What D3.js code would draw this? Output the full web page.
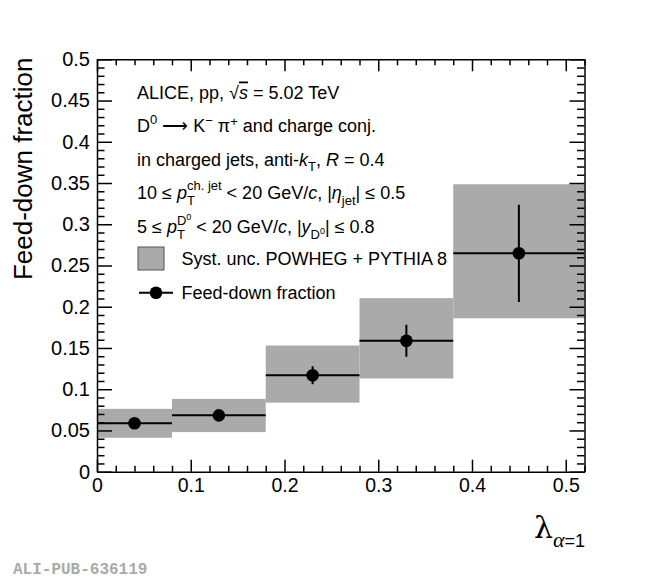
<!DOCTYPE html>
<html>
<head>
<meta charset="utf-8">
<script src="https://cdn.jsdelivr.net/npm/d3@7"></script>
<style>
  body { margin: 0; background: #fff; }
  text { font-family: "Liberation Sans", Arial, sans-serif; fill: #000; white-space: pre; }
  .axis path, .axis line { stroke: #000; stroke-width: 1.5; }
  .axis text { font-size: 20px; }
</style>
</head>
<body>
<div id="plot-container"></div>
<script>
// bins of lambda (alpha = 1)
const binLo = [0, 0.08, 0.18, 0.28, 0.38];
const binHi = [0.08, 0.18, 0.28, 0.38, 0.52];
const lambdaCenter = [0.04, 0.13, 0.23, 0.33, 0.45];
// feed-down fraction with stat. error
const fdFraction = [0.0587, 0.0683, 0.117, 0.1588, 0.2648];
const statErr = [0.003, 0.004, 0.011, 0.0195, 0.059];
// syst. unc. POWHEG + PYTHIA 8 band
const systLo = [0.0412, 0.0480, 0.0837, 0.1130, 0.1860];
const systHi = [0.0762, 0.0883, 0.1530, 0.2104, 0.3485];

const xMajor = [0, 0.1, 0.2, 0.3, 0.4, 0.5];
const yMajor = [0, 0.05, 0.1, 0.15, 0.2, 0.25, 0.3, 0.35, 0.4, 0.45, 0.5];

const data = binLo.map((lo, i) => ({
    lo, hi: binHi[i], x: lambdaCenter[i], y: fdFraction[i],
    err: statErr[i], sLo: systLo[i], sHi: systHi[i]
}));

const W = 650, H = 579;
const margin = { top: 59.3, right: 65.5, bottom: 107.3, left: 97 };
const width = W - margin.left - margin.right;
const height = H - margin.top - margin.bottom;

const root = d3.select("#plot-container")
    .append("svg")
    .attr("width", W)
    .attr("height", H);

const svg = root.append("g")
    .attr("transform", "translate(" + margin.left + "," + margin.top + ")");

const xScale = d3.scaleLinear().domain([0, 0.52]).range([0, width]);
const yScale = d3.scaleLinear().domain([0, 0.5]).range([height, 0]);

svg.append("clipPath").attr("id", "frame")
    .append("rect").attr("width", width).attr("height", height);

const plot = svg.append("g").attr("clip-path", "url(#frame)");

// syst boxes
plot.selectAll(".syst")
    .data(data)
    .enter()
    .append("rect")
    .attr("class", "syst")
    .attr("x", d => xScale(d.lo))
    .attr("width", d => xScale(d.hi) - xScale(d.lo))
    .attr("y", d => yScale(d.sHi))
    .attr("height", d => yScale(d.sLo) - yScale(d.sHi))
    .attr("fill", "#aaaaaa");

// horizontal bin lines
plot.selectAll(".hbar")
    .data(data)
    .enter()
    .append("line")
    .attr("x1", d => xScale(d.lo))
    .attr("x2", d => xScale(d.hi))
    .attr("y1", d => yScale(d.y))
    .attr("y2", d => yScale(d.y))
    .attr("stroke", "#000")
    .attr("stroke-width", 2);

// stat error bars
plot.selectAll(".vbar")
    .data(data)
    .enter()
    .append("line")
    .attr("x1", d => xScale(d.x))
    .attr("x2", d => xScale(d.x))
    .attr("y1", d => yScale(d.y - d.err))
    .attr("y2", d => yScale(d.y + d.err))
    .attr("stroke", "#000")
    .attr("stroke-width", 2);

plot.selectAll(".pt")
    .data(data)
    .enter()
    .append("circle")
    .attr("cx", d => xScale(d.x))
    .attr("cy", d => yScale(d.y))
    .attr("r", 6.3)
    .attr("fill", "#000");

// axes with inward ticks
const xMinor = d3.range(0, 0.521, 0.02).filter(v => Math.abs(v * 10 - Math.round(v * 10)) > 1e-6);
const yMinor = d3.range(0, 0.501, 0.01).filter(v => Math.abs(v * 20 - Math.round(v * 20)) > 1e-6);

function addAxis(axisFn, scale, major, minor, majLen, minLen, transform, labels, fmt) {
    const g1 = svg.append("g").attr("class", "axis").attr("transform", transform)
        .call(axisFn(scale).tickValues(major).tickSize(-majLen).tickSizeOuter(0)
            .tickPadding(labels ? majLen + 8 : 0).tickFormat(labels ? fmt : ""));
    svg.append("g").attr("class", "axis").attr("transform", transform)
        .call(axisFn(scale).tickValues(minor).tickSize(-minLen).tickSizeOuter(0).tickFormat(""))
        .select(".domain").remove();
    return g1;
}

const fmt = d => d3.format("")(+d.toFixed(2));
const xg = addAxis(d3.axisBottom, xScale, xMajor, xMinor, 12, 6, "translate(0," + height + ")", true, fmt);
xg.selectAll("text").style("font-size", "19.5px").attr("dy", "0.9em").attr("y", 3);
addAxis(d3.axisTop, xScale, xMajor, xMinor, 12, 6, "translate(0,0)", false);
const yg = addAxis(d3.axisLeft, yScale, yMajor, yMinor, 15, 7.5, "translate(0,0)", true, fmt);
yg.selectAll("text").attr("x", -7);
addAxis(d3.axisRight, yScale, yMajor, yMinor, 15, 7.5, "translate(" + width + ",0)", false);

// axis titles
root.append("text")
    .attr("transform", "translate(32," + 57.5 + ") rotate(-90)")
    .attr("text-anchor", "end")
    .style("font-size", "26px")
    .text("Feed-down fraction");

const xt = root.append("text")
    .attr("x", 585)
    .attr("y", 538)
    .attr("text-anchor", "end");
xt.append("tspan").text("λ").style("font-family", "DejaVu Serif, serif").style("font-size", "30px");
xt.append("tspan").text("α").attr("dy", 9).style("font-family", "Liberation Serif, serif")
    .style("font-style", "italic").style("font-size", "22px");
xt.append("tspan").text("=1").style("font-size", "18px");

// rich text helper: segments with baseline offsets
function richText(x, y, segs) {
    const t = root.append("text").attr("x", x).attr("y", y).style("font-size", "18px");
    let cur = 0, prev = null;
    segs.forEach(s => {
        const off = s.off || 0;
        const sp = t.append("tspan").text(s.t).attr("dy", off - cur);
        cur = off;
        if (s.i) sp.style("font-style", "italic");
        if (s.fs) sp.style("font-size", s.fs + "px");
        if (s.ol) sp.style("text-decoration", "overline");
        if (s.back && prev) sp.attr("dx", -prev.node().getComputedTextLength());
        prev = sp;
    });
    return t;
}

const tx = 137;
richText(tx, 98.5, [
    { t: "ALICE, pp, √" }, { t: "s", i: true, ol: true }, { t: " = 5.02 TeV" }
]);
richText(tx, 132, [
    { t: "D" }, { t: "0", off: -8, fs: 13 }, { t: " ⟶ K" }, { t: "−", off: -7, fs: 13 },
    { t: " π" }, { t: "+", off: -6, fs: 13 }, { t: " and charge conj." }
]);
richText(tx, 165.5, [
    { t: "in charged jets, anti-" }, { t: "k", i: true }, { t: "T", off: 5, fs: 13 },
    { t: ", " }, { t: "R", i: true }, { t: " = 0.4" }
]);
richText(tx, 199, [
    { t: "10 ≤ " }, { t: "p", i: true }, { t: "T", off: 6, fs: 13 },
    { t: "ch. jet", off: -9, fs: 13, back: true },
    { t: " < 20 GeV/" }, { t: "c", i: true }, { t: ", |" }, { t: "η", i: true },
    { t: "jet", off: 6, fs: 13 }, { t: "| ≤ 0.5" }
]);
richText(tx, 232.5, [
    { t: "5 ≤ " }, { t: "p", i: true }, { t: "T", off: 6, fs: 13 },
    { t: "D", off: -8, fs: 13, back: true }, { t: "0", off: -13, fs: 9 },
    { t: " < 20 GeV/" }, { t: "c", i: true }, { t: ", |" }, { t: "y", i: true },
    { t: "D", off: 6, fs: 13 }, { t: "0", off: 1, fs: 9 }, { t: "| ≤ 0.8" }
]);

// legend
root.append("rect")
    .attr("x", 138).attr("y", 247).attr("width", 26).attr("height", 23)
    .attr("fill", "#aaaaaa").attr("stroke", "#555").attr("stroke-width", 1);
root.append("text").attr("x", 181.5).attr("y", 264.5).style("font-size", "18px")
    .text("Syst. unc. POWHEG + PYTHIA 8");

root.append("line")
    .attr("x1", 139).attr("x2", 173).attr("y1", 292.7).attr("y2", 292.7)
    .attr("stroke", "#000").attr("stroke-width", 2);
root.append("circle").attr("cx", 156).attr("cy", 292.7).attr("r", 6.3).attr("fill", "#000");
root.append("text").attr("x", 181.5).attr("y", 299).style("font-size", "18px")
    .text("Feed-down fraction");

// watermark
root.append("text")
    .attr("x", 13).attr("y", 574)
    .style("font-family", "Liberation Mono, monospace")
    .style("font-weight", "bold")
    .style("font-size", "16px")
    .style("fill", "#aaaaaa")
    .text("ALI-PUB-636119");
</script>
</body>
</html>
